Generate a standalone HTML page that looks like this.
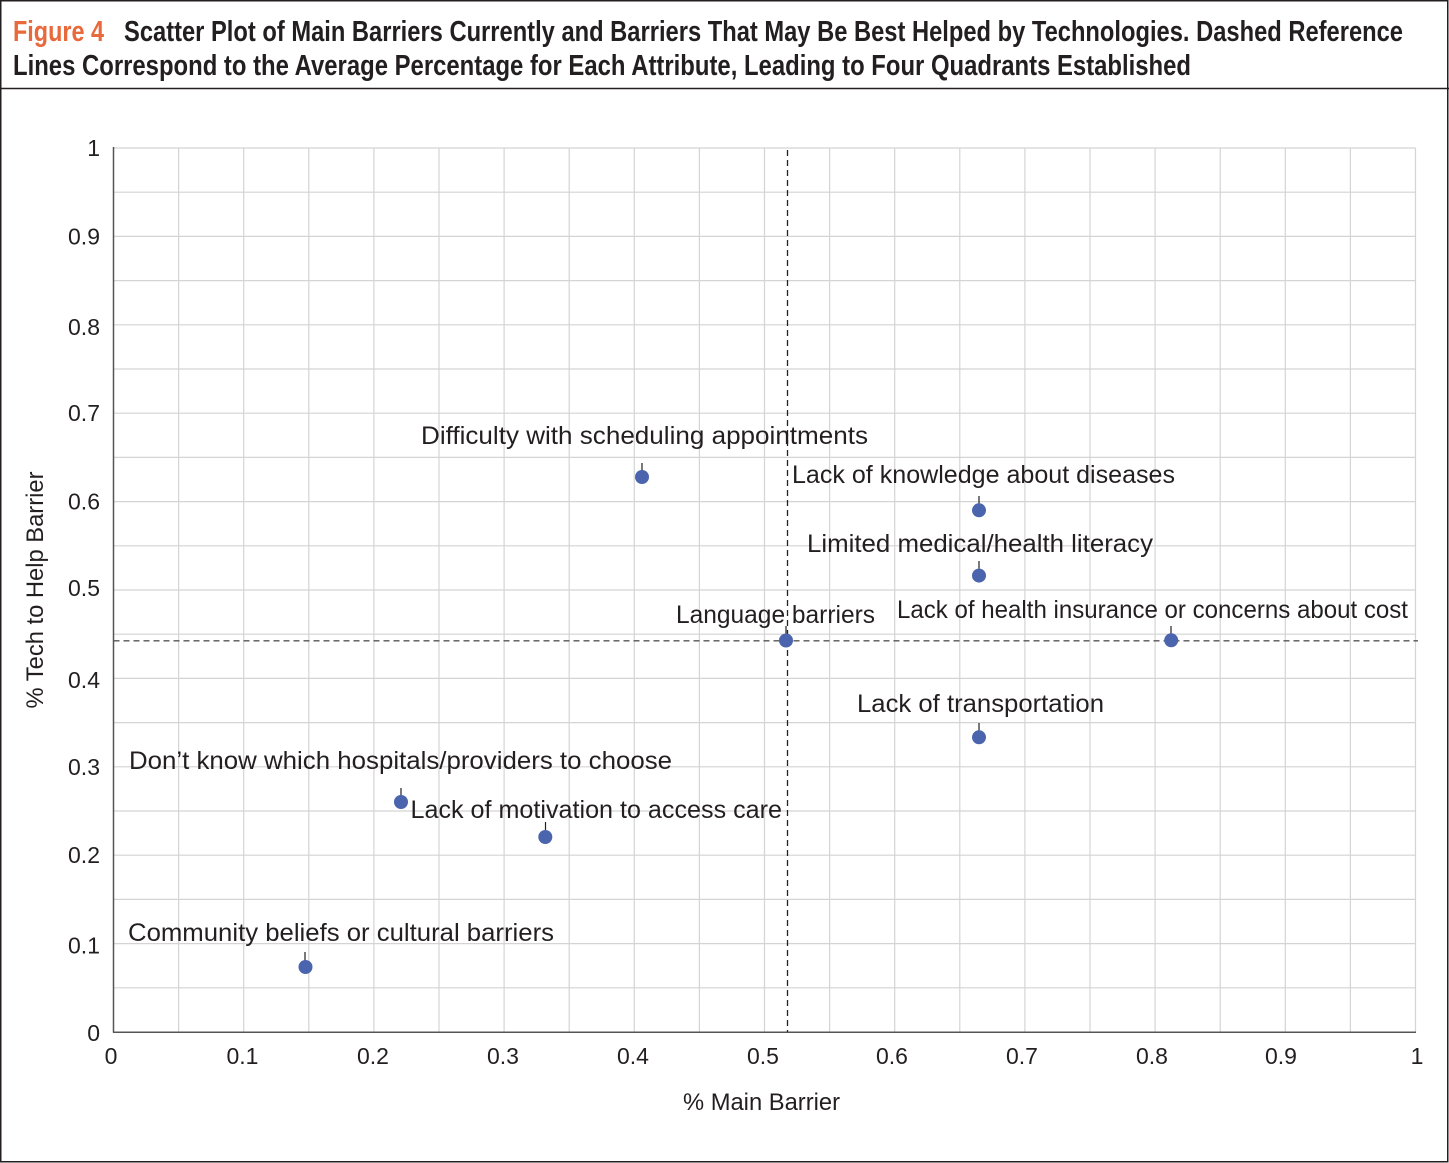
<!DOCTYPE html>
<html>
<head>
<meta charset="utf-8">
<style>
  html,body{margin:0;padding:0;background:#fff;}
  svg{display:block;}
  text{font-family:"Liberation Sans",sans-serif;fill:#231f20;}
</style>
</head>
<body>
<svg width="1449" height="1163" viewBox="0 0 1449 1163" xmlns="http://www.w3.org/2000/svg">
  <rect x="0" y="0" width="1449" height="1163" fill="#fff"/>
  <!-- outer border -->
  <rect x="0.75" y="0.75" width="1447" height="1161" fill="none" stroke="#231f20" stroke-width="1.5"/>
  <line x1="0" y1="88.5" x2="1449" y2="88.5" stroke="#231f20" stroke-width="1.5"/>

  <!-- title -->
  <text x="13" y="41" font-size="29" font-weight="bold" textLength="91" lengthAdjust="spacingAndGlyphs" style="fill:#e8693c">Figure 4</text>
  <text x="124" y="41" font-size="29" font-weight="bold" textLength="1279" lengthAdjust="spacingAndGlyphs">Scatter Plot of Main Barriers Currently and Barriers That May Be Best Helped by Technologies. Dashed Reference</text>
  <text x="13" y="75" font-size="29" font-weight="bold" textLength="1178" lengthAdjust="spacingAndGlyphs">Lines Correspond to the Average Percentage for Each Attribute, Leading to Four Quadrants Established</text>

  <!-- grid -->
  <g stroke="#d4d4d4" stroke-width="1.2">
    <line x1="113.5" y1="148" x2="1415.5" y2="148"/>
    <line x1="113.5" y1="192.2" x2="1415.5" y2="192.2"/>
    <line x1="113.5" y1="236.4" x2="1415.5" y2="236.4"/>
    <line x1="113.5" y1="280.6" x2="1415.5" y2="280.6"/>
    <line x1="113.5" y1="324.8" x2="1415.5" y2="324.8"/>
    <line x1="113.5" y1="369" x2="1415.5" y2="369"/>
    <line x1="113.5" y1="413.2" x2="1415.5" y2="413.2"/>
    <line x1="113.5" y1="457.4" x2="1415.5" y2="457.4"/>
    <line x1="113.5" y1="501.6" x2="1415.5" y2="501.6"/>
    <line x1="113.5" y1="545.8" x2="1415.5" y2="545.8"/>
    <line x1="113.5" y1="590" x2="1415.5" y2="590"/>
    <line x1="113.5" y1="634.2" x2="1415.5" y2="634.2"/>
    <line x1="113.5" y1="678.4" x2="1415.5" y2="678.4"/>
    <line x1="113.5" y1="722.6" x2="1415.5" y2="722.6"/>
    <line x1="113.5" y1="766.8" x2="1415.5" y2="766.8"/>
    <line x1="113.5" y1="811" x2="1415.5" y2="811"/>
    <line x1="113.5" y1="855.2" x2="1415.5" y2="855.2"/>
    <line x1="113.5" y1="899.4" x2="1415.5" y2="899.4"/>
    <line x1="113.5" y1="943.6" x2="1415.5" y2="943.6"/>
    <line x1="113.5" y1="987.8" x2="1415.5" y2="987.8"/>

    <line x1="178.6" y1="148" x2="178.6" y2="1032"/>
    <line x1="243.7" y1="148" x2="243.7" y2="1032"/>
    <line x1="308.8" y1="148" x2="308.8" y2="1032"/>
    <line x1="373.9" y1="148" x2="373.9" y2="1032"/>
    <line x1="439" y1="148" x2="439" y2="1032"/>
    <line x1="504.1" y1="148" x2="504.1" y2="1032"/>
    <line x1="569.2" y1="148" x2="569.2" y2="1032"/>
    <line x1="634.3" y1="148" x2="634.3" y2="1032"/>
    <line x1="699.4" y1="148" x2="699.4" y2="1032"/>
    <line x1="764.5" y1="148" x2="764.5" y2="1032"/>
    <line x1="829.6" y1="148" x2="829.6" y2="1032"/>
    <line x1="894.7" y1="148" x2="894.7" y2="1032"/>
    <line x1="959.8" y1="148" x2="959.8" y2="1032"/>
    <line x1="1024.9" y1="148" x2="1024.9" y2="1032"/>
    <line x1="1090" y1="148" x2="1090" y2="1032"/>
    <line x1="1155.1" y1="148" x2="1155.1" y2="1032"/>
    <line x1="1220.2" y1="148" x2="1220.2" y2="1032"/>
    <line x1="1285.3" y1="148" x2="1285.3" y2="1032"/>
    <line x1="1350.4" y1="148" x2="1350.4" y2="1032"/>
    <line x1="1415.5" y1="148" x2="1415.5" y2="1032"/>
  </g>

  <!-- axes -->
  <line x1="113.5" y1="147" x2="113.5" y2="1032.5" stroke="#555" stroke-width="1.5"/>
  <line x1="113" y1="1032.3" x2="1416" y2="1032.3" stroke="#555" stroke-width="1.5"/>

  <!-- reference dashed lines -->
  <line x1="787.5" y1="150" x2="787.5" y2="1032" stroke="#222" stroke-width="1.3" stroke-dasharray="6 4"/>
  <line x1="113.5" y1="640.8" x2="1418" y2="640.8" stroke="#555" stroke-width="1.3" stroke-dasharray="6 4"/>

  <!-- y tick labels -->
  <g font-size="23" text-anchor="end">
    <text x="100" y="156">1</text>
    <text x="100" y="244.4">0.9</text>
    <text x="100" y="334.8">0.8</text>
    <text x="100" y="421.2">0.7</text>
    <text x="100" y="509.6">0.6</text>
    <text x="100" y="596">0.5</text>
    <text x="100" y="688">0.4</text>
    <text x="100" y="774.8">0.3</text>
    <text x="100" y="863.2">0.2</text>
    <text x="100" y="953.6">0.1</text>
    <text x="100" y="1041">0</text>
  </g>
  <!-- x tick labels -->
  <g font-size="23" text-anchor="middle">
    <text x="111" y="1064">0</text>
    <text x="242.5" y="1064">0.1</text>
    <text x="373" y="1064">0.2</text>
    <text x="503" y="1064">0.3</text>
    <text x="633" y="1064">0.4</text>
    <text x="763" y="1064">0.5</text>
    <text x="892" y="1064">0.6</text>
    <text x="1022" y="1064">0.7</text>
    <text x="1152" y="1064">0.8</text>
    <text x="1281" y="1064">0.9</text>
    <text x="1417" y="1064">1</text>
  </g>

  <!-- axis titles -->
  <text x="683" y="1110" font-size="24" textLength="157" lengthAdjust="spacingAndGlyphs">% Main Barrier</text>
  <text transform="translate(43,590) rotate(-90)" x="0" y="0" font-size="24" text-anchor="middle" textLength="237" lengthAdjust="spacingAndGlyphs">% Tech to Help Barrier</text>

  <!-- leaders -->
  <g stroke="#231f20" stroke-width="1.2">
    <line x1="642" y1="463" x2="642" y2="471"/>
    <line x1="979" y1="496" x2="979" y2="504"/>
    <line x1="979" y1="561" x2="979" y2="569"/>
    <line x1="786" y1="626" x2="786" y2="634"/>
    <line x1="1171" y1="626" x2="1171" y2="634"/>
    <line x1="979" y1="723" x2="979" y2="731"/>
    <line x1="401" y1="788" x2="401" y2="796"/>
    <line x1="545.5" y1="822" x2="545.5" y2="830"/>
    <line x1="305" y1="952" x2="305" y2="961"/>
  </g>

  <!-- points -->
  <g fill="#4a64ad">
    <circle cx="642" cy="477" r="7"/>
    <circle cx="979" cy="510.3" r="7"/>
    <circle cx="979" cy="575.6" r="7"/>
    <circle cx="786" cy="640.5" r="7"/>
    <circle cx="1171.2" cy="640.3" r="7"/>
    <circle cx="979" cy="737.3" r="7"/>
    <circle cx="401" cy="802" r="7"/>
    <circle cx="545.3" cy="837" r="7"/>
    <circle cx="305.5" cy="967" r="7"/>
  </g>

  <!-- point labels -->
  <g font-size="25">
    <text x="421" y="444" textLength="447" lengthAdjust="spacingAndGlyphs">Difficulty with scheduling appointments</text>
    <text x="792" y="483" textLength="383" lengthAdjust="spacingAndGlyphs">Lack of knowledge about diseases</text>
    <text x="807" y="552" textLength="346" lengthAdjust="spacingAndGlyphs">Limited medical/health literacy</text>
    <text x="676" y="623" textLength="199" lengthAdjust="spacingAndGlyphs">Language barriers</text>
    <text x="897" y="618" textLength="511" lengthAdjust="spacingAndGlyphs">Lack of health insurance or concerns about cost</text>
    <text x="857" y="712" textLength="247" lengthAdjust="spacingAndGlyphs">Lack of transportation</text>
    <text x="129" y="769" textLength="543" lengthAdjust="spacingAndGlyphs">Don’t know which hospitals/providers to choose</text>
    <text x="410.5" y="818" textLength="371.5" lengthAdjust="spacingAndGlyphs">Lack of motivation to access care</text>
    <text x="128" y="941" textLength="426" lengthAdjust="spacingAndGlyphs">Community beliefs or cultural barriers</text>
  </g>
</svg>
</body>
</html>
